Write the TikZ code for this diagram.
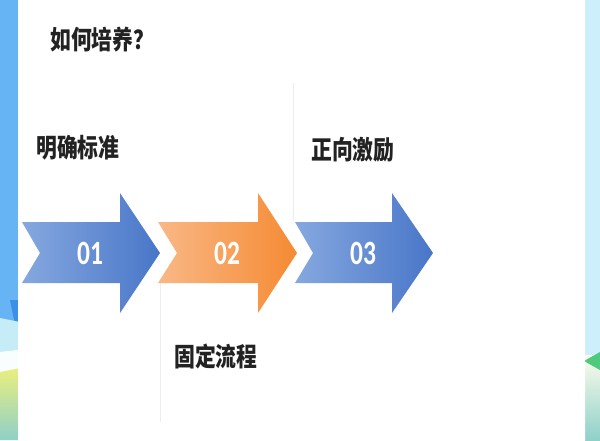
\documentclass[tikz,border=0pt]{standalone}
\usepackage{fontspec}
\newfontfamily\cjk{Noto Sans CJK SC}
\newfontfamily\digitfont{Carlito}
\definecolor{stripblue}{HTML}{66B4F4}
\definecolor{stripdark}{HTML}{3E8FE6}
\definecolor{stripcyan}{HTML}{C6ECF8}
\definecolor{stripyellow}{HTML}{E9EF7E}
\definecolor{stripteal}{HTML}{8FD0C8}
\definecolor{rightblue}{HTML}{CDEEFB}
\definecolor{rightgreen}{HTML}{4CCB7E}
\definecolor{bluelight}{HTML}{86A8DF}
\definecolor{bluedark}{HTML}{4876C8}
\definecolor{orangelight}{HTML}{F9B885}
\definecolor{orangedark}{HTML}{F58A33}
\definecolor{labelgray}{HTML}{222222}
\tikzset{
  chev/.style={draw=none},
  numtext/.style={text=white,font=\digitfont\bfseries\fontsize{25.5}{26}\selectfont,inner sep=0pt},
  cjklabel/.style={text=labelgray,font=\cjk\bfseries\fontsize{19.5}{20}\selectfont,inner sep=0pt},
  guideline/.style={draw=black!7,line width=0.5pt}
}
\begin{document}
\begin{tikzpicture}[x=0.75pt,y=-0.75pt]
\useasboundingbox (0,0) rectangle (600,440);
% background strips
\fill[stripblue] (0,0) rectangle (20,345);
\fill[stripdark] (10,300) .. controls (14,320) .. (20,345) -- (20,300) -- cycle;
\fill[stripcyan] (0,318) -- (20,322) -- (20,350) -- (0,352) -- cycle;
\fill[white!90!stripcyan] (0,352) -- (20,350) -- (20,368) -- (0,372) -- cycle;
\shade[top color=stripyellow,bottom color=stripteal] (0,372) -- (20,368) -- (20,440) -- (0,440) -- cycle;
\fill[rightblue] (582,0) rectangle (600,355);
\shade[top color=white!85!stripyellow,bottom color=stripteal] (582,355) rectangle (600,440);
\fill[rightgreen] (584,361) -- (600,352) -- (600,370) -- cycle;
% card
\fill[white,rounded corners=12] (18,-20) rectangle (585,460);
% faint guide lines
\coordinate (g1a) at (160,283); \coordinate (g1b) at (160,422);
\coordinate (g2a) at (293,83);  \coordinate (g2b) at (293,220);
\draw[guideline] (g1a) -- (g1b);
\draw[guideline] (g2a) -- (g2b);
% title
\node[cjklabel,anchor=west] (title) at (50,40) {\scalebox{0.8}[1]{如何培养？}};
% arrows
\shade[chev,left color=bluelight,right color=bluedark]
  (22,222) -- (120,222) -- (120,193) -- (160,253) -- (120,313) -- (120,283) -- (22,283) -- (40,253) -- cycle;
\shade[chev,left color=orangelight,right color=orangedark]
  (158,222) -- (258,222) -- (258,193) -- (297,253) -- (258,313) -- (258,283) -- (158,283) -- (177,253) -- cycle;
\shade[chev,left color=bluelight,right color=bluedark]
  (295,222) -- (392,222) -- (392,193) -- (433,253) -- (392,313) -- (392,283) -- (295,283) -- (313,253) -- cycle;
\node[numtext] (n1) at (90,253) {\scalebox{0.75}[1]{01}};
\node[numtext] (n2) at (227,253) {\scalebox{0.75}[1]{02}};
\node[numtext] (n3) at (363,253) {\scalebox{0.75}[1]{03}};
% labels
\node[cjklabel,anchor=west] (l1) at (36,148) {\scalebox{0.8}[1]{明确标准}};
\node[cjklabel,anchor=west] (l2) at (174,356) {\scalebox{0.8}[1]{固定流程}};
\node[cjklabel,anchor=west] (l3) at (311,150) {\scalebox{0.8}[1]{正向激励}};
\end{tikzpicture}
\end{document}
